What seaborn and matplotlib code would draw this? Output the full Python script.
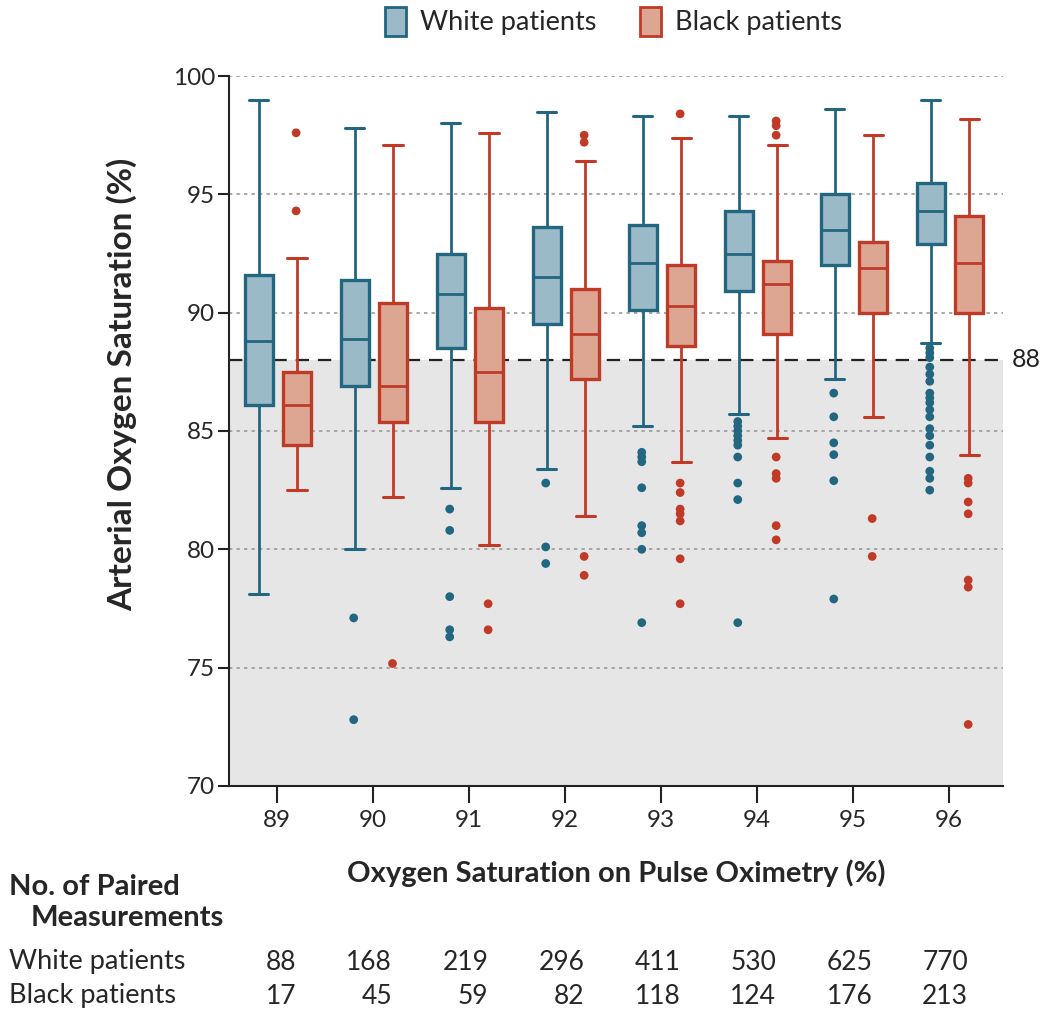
import numpy as np
import pandas as pd
import seaborn as sns
import matplotlib.pyplot as plt
from matplotlib.patches import Patch

# pulse oximetry categories (%)
spo2 = ['89', '90', '91', '92', '93', '94', '95', '96']
groups = ['White patients', 'Black patients']

# box statistics (arterial SaO2, %)
white_whislo = [78.1, 80.0, 82.6, 83.4, 85.2, 85.7, 87.2, 88.7]
white_q1 = [86.1, 86.9, 88.5, 89.5, 90.1, 90.9, 92.0, 92.9]
white_med = [88.8, 88.9, 90.8, 91.5, 92.1, 92.5, 93.5, 94.3]
white_q3 = [91.6, 91.4, 92.5, 93.6, 93.7, 94.3, 95.0, 95.5]
white_whishi = [99.0, 97.8, 98.0, 98.5, 98.3, 98.3, 98.6, 99.0]

black_whislo = [82.5, 82.2, 80.2, 81.4, 83.7, 84.7, 85.6, 84.0]
black_q1 = [84.4, 85.4, 85.4, 87.2, 88.6, 89.1, 90.0, 90.0]
black_med = [86.1, 86.9, 87.5, 89.1, 90.3, 91.2, 91.9, 92.1]
black_q3 = [87.5, 90.4, 90.2, 91.0, 92.0, 92.2, 93.0, 94.1]
black_whishi = [92.3, 97.1, 97.6, 96.4, 97.4, 97.1, 97.5, 98.2]

white_outliers = [
    [],
    [77.1, 72.8],
    [81.7, 80.8, 78.0, 76.6, 76.3],
    [82.8, 80.1, 79.4],
    [84.1, 83.9, 83.7, 82.6, 81.0, 80.7, 80.0, 76.9],
    [85.4, 85.2, 85.0, 84.8, 84.6, 84.4, 83.9, 82.8, 82.1, 76.9],
    [86.6, 85.6, 84.5, 84.0, 82.9, 77.9],
    [88.5, 88.3, 88.1, 87.7, 87.4, 87.1, 86.6, 86.4, 86.2, 85.9, 85.6,
     85.1, 84.8, 84.4, 83.9, 83.3, 83.0, 82.5],
]
black_outliers = [
    [97.6, 94.3],
    [75.2],
    [77.7, 76.6],
    [97.5, 97.2, 79.7, 78.9],
    [98.4, 82.8, 82.4, 81.7, 81.5, 81.2, 79.6, 77.7],
    [98.1, 97.9, 97.5, 83.9, 83.2, 83.0, 81.0, 80.4],
    [81.3, 79.7],
    [83.0, 82.8, 82.0, 81.5, 78.7, 78.4, 72.6],
]

white_n = [88, 168, 219, 296, 411, 530, 625, 770]
black_n = [17, 45, 59, 82, 118, 124, 176, 213]

edge = {'White patients': '#22667f', 'Black patients': '#c03a28'}
fill = {'White patients': '#9bbac8', 'Black patients': '#dca693'}

sns.set_theme(style='white')
plt.rcParams['font.family'] = ['Lato', 'DejaVu Sans']

fig = plt.figure(figsize=(10.5, 10.19), dpi=100)
ax = fig.add_axes([0.218, 0.2287, 0.737, 0.6967])

# shaded hypoxemia region and reference line
ax.axhspan(70, 88, color='#e6e6e6', zorder=0, lw=0)
for y in [75, 80, 85, 90, 95, 100]:
    ax.axhline(y, color='#9a9a9a', lw=1.2, ls=(0, (2, 2.5)), zorder=1)
ax.axhline(88, color='#222222', lw=1.6, ls=(0, (6, 4)), zorder=2)

stats_src = {
    'White patients': (white_whislo, white_q1, white_med, white_q3, white_whishi, -0.19),
    'Black patients': (black_whislo, black_q1, black_med, black_q3, black_whishi, 0.21),
}
for g, (lo, q1, med, q3, hi, off) in stats_src.items():
    stats = [dict(whislo=lo[i], q1=q1[i], med=med[i], q3=q3[i], whishi=hi[i], fliers=[])
             for i in range(len(spo2))]
    ax.bxp(stats, positions=np.arange(len(spo2)) + off, widths=0.29,
           capwidths=0.2, patch_artist=True, showfliers=False, manage_ticks=False,
           boxprops=dict(facecolor=fill[g], edgecolor=edge[g], lw=2.4),
           medianprops=dict(color=edge[g], lw=2),
           whiskerprops=dict(color=edge[g], lw=2),
           capprops=dict(color=edge[g], lw=2.2), zorder=3)

# outliers
rows = []
for i, cat in enumerate(spo2):
    for v in white_outliers[i]:
        rows.append((cat, 'White patients', v))
    for v in black_outliers[i]:
        rows.append((cat, 'Black patients', v))
out = pd.DataFrame(rows, columns=['spo2', 'group', 'sao2'])
sns.stripplot(data=out, x='spo2', y='sao2', hue='group', order=spo2, hue_order=groups,
              dodge=True, jitter=False, palette=edge, size=6.3, linewidth=0,
              legend=False, ax=ax, zorder=4)

ax.set_xlim(-0.5, 7.56)
ax.set_ylim(70, 100)
ax.set_yticks([70, 75, 80, 85, 90, 95, 100])
ax.set_xticks(range(len(spo2)))
ax.set_xticklabels(spo2)
sns.despine(ax=ax)
for s in ['left', 'bottom']:
    ax.spines[s].set_color('#222222')
    ax.spines[s].set_linewidth(1.5)
ax.tick_params(axis='y', length=8, width=1.5, color='#222222', labelsize=17.5, pad=2, left=True)
ax.tick_params(axis='x', length=12, width=1.5, color='#222222', labelsize=17.5, pad=5, bottom=True)
ax.set_ylabel('Arterial Oxygen Saturation (%)', fontsize=24, fontweight='bold')
ax.yaxis.set_label_coords(-0.119, 0.565)
ax.set_xlabel('Oxygen Saturation on Pulse Oximetry (%)', fontsize=21, fontweight='bold', labelpad=21)

ax.text(1.012, 88, '88', transform=ax.get_yaxis_transform(), fontsize=18,
        va='center', ha='left', color='#222222')

handles = [Patch(facecolor=fill[g], edgecolor=edge[g], lw=2, label=g) for g in groups]
fig.legend(handles=handles, loc='center', bbox_to_anchor=(0.584, 0.979), ncol=2,
           frameon=False, fontsize=19.5, handlelength=0.8, handleheight=1.3,
           handletextpad=0.5, columnspacing=1.6)

# table of paired measurements
fig.text(0.009, 0.1295, 'No. of Paired', fontsize=21, fontweight='bold', va='center')
fig.text(0.029, 0.099, 'Measurements', fontsize=21, fontweight='bold', va='center')
fig.text(0.009, 0.056, 'White patients', fontsize=19.5, va='center')
fig.text(0.009, 0.0226, 'Black patients', fontsize=19.5, va='center')
tr = ax.get_xaxis_transform()
for i in range(len(spo2)):
    ax.text(i + 0.2, -0.248, str(white_n[i]), transform=tr, fontsize=19,
            ha='right', va='center', clip_on=False)
    ax.text(i + 0.2, -0.296, str(black_n[i]), transform=tr, fontsize=19,
            ha='right', va='center', clip_on=False)

plt.savefig('out.png', dpi=100)
